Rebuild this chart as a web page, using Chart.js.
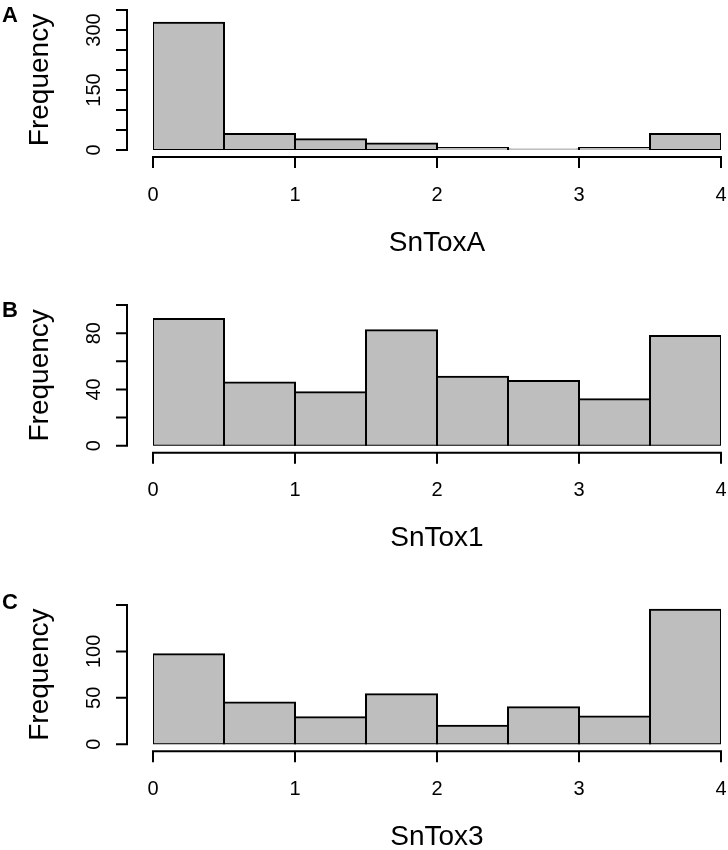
<!DOCTYPE html>
<html>
<head>
<meta charset="utf-8">
<script src="https://cdn.jsdelivr.net/npm/chart.js@4.4.1/dist/chart.umd.min.js"></script>
<style>
  body { margin: 0; background: #fff; }
  .panel { position: absolute; left: 0; width: 728px; }
  .letter { position: absolute; left: 2px; font: bold 22px "Liberation Sans", Arial, sans-serif; color: #000; }
</style>
</head>
<body>
<div class="panel" style="top:0;height:290px"><canvas id="chartA"></canvas></div>
<div class="panel" style="top:290px;height:300px"><canvas id="chartB"></canvas></div>
<div class="panel" style="top:590px;height:260px"><canvas id="chartC"></canvas></div>
<div class="letter" style="top:2px">A</div>
<div class="letter" style="top:297px">B</div>
<div class="letter" style="top:589px">C</div>
<script>
// histogram bins (score classes)
const binEdges = [0, 0.5, 1, 1.5, 2, 2.5, 3, 3.5, 4];
const xTicks = [0, 1, 2, 3, 4];

// counts per bin
const snToxA = [318, 40, 27, 16, 5, 1, 5, 40];
const snTox1 = [90, 45, 38, 82, 49, 46, 33, 78];
const snTox3 = [97, 45, 29, 54, 20, 40, 30, 145];

// y ticks (all tick marks) and the ones R actually labelled
const yTicksA = [0, 50, 100, 150, 200, 250, 300, 350];
const yLabelsA = [0, 150, 300];
const yTicksB = [0, 20, 40, 60, 80, 100];
const yLabelsB = [0, 40, 80];
const yTicksC = [0, 50, 100, 150];
const yLabelsC = [0, 50, 100];

const FONT = '"Liberation Sans", Arial, sans-serif';

// R-style detached axes
const rAxes = {
  id: 'rAxes',
  afterDraw(chart, args, opts) {
    const ctx = chart.ctx;
    const x = chart.scales.x, y = chart.scales.y;
    const y0 = y.getPixelForValue(0);
    const axY = y0 + 7;
    const axX = x.getPixelForValue(xTicks[0]) - 26;
    ctx.save();
    ctx.strokeStyle = '#000';
    ctx.lineWidth = 2;
    ctx.lineCap = 'square';
    ctx.beginPath();
    // x axis
    ctx.moveTo(x.getPixelForValue(xTicks[0]), axY);
    ctx.lineTo(x.getPixelForValue(xTicks[xTicks.length - 1]), axY);
    xTicks.forEach(v => {
      const px = x.getPixelForValue(v);
      ctx.moveTo(px, axY);
      ctx.lineTo(px, axY + 10);
    });
    // y axis
    const yt = opts.ticks;
    ctx.moveTo(axX, y.getPixelForValue(yt[0]));
    ctx.lineTo(axX, y.getPixelForValue(yt[yt.length - 1]));
    yt.forEach(v => {
      const py = y.getPixelForValue(v);
      ctx.moveTo(axX, py);
      ctx.lineTo(axX - 10, py);
    });
    ctx.stroke();

    ctx.fillStyle = '#000';
    // x tick labels
    ctx.font = '20px ' + FONT;
    ctx.textAlign = 'center';
    ctx.textBaseline = 'middle';
    xTicks.forEach(v => ctx.fillText(String(v), x.getPixelForValue(v), y0 + 45));
    // x title
    ctx.font = '28px ' + FONT;
    ctx.fillText(opts.title, (x.left + x.right) / 2, y0 + 93);

    // y tick labels, rotated like R
    ctx.font = '20px ' + FONT;
    ctx.textBaseline = 'alphabetic';
    opts.labels.forEach(v => {
      ctx.save();
      ctx.translate(axX - 27, y.getPixelForValue(v));
      ctx.rotate(-Math.PI / 2);
      ctx.fillText(String(v), 0, 0);
      ctx.restore();
    });
    // y title
    ctx.font = '28px ' + FONT;
    ctx.save();
    ctx.translate(48, (y.getPixelForValue(yt[0]) + y.getPixelForValue(yt[yt.length - 1])) / 2);
    ctx.rotate(-Math.PI / 2);
    ctx.fillText('Frequency', 0, 0);
    ctx.restore();
    ctx.restore();
  }
};

function histogram(id, counts, yTicks, yLabels, title, padTop, padBottom) {
  const pts = counts.map((c, i) => ({ x: (binEdges[i] + binEdges[i + 1]) / 2, y: c }));
  new Chart(document.getElementById(id), {
    type: 'bar',
    data: {
      datasets: [{
        data: pts,
        backgroundColor: '#bebebe',
        borderColor: '#000',
        borderWidth: 2,
        borderSkipped: false,
        inflateAmount: 1,
        barPercentage: 1,
        categoryPercentage: 1
      }]
    },
    options: {
      responsive: true,
      maintainAspectRatio: false,
      animation: false,
      layout: { padding: { left: 153, right: 7, top: padTop, bottom: padBottom } },
      scales: {
        x: { type: 'linear', min: binEdges[0], max: binEdges[binEdges.length - 1], offset: false, display: false },
        y: { min: yTicks[0], max: yTicks[yTicks.length - 1], display: false }
      },
      plugins: {
        legend: { display: false },
        tooltip: { enabled: false },
        rAxes: { ticks: yTicks, labels: yLabels, title: title }
      }
    },
    plugins: [rAxes]
  });
}

histogram('chartA', snToxA, yTicksA, yLabelsA, 'SnToxA', 10, 140);
histogram('chartB', snTox1, yTicksB, yLabelsB, 'SnTox1', 15, 144.3);
histogram('chartC', snTox3, yTicksC, yLabelsC, 'SnTox3', 15, 105.7);
</script>
</body>
</html>
